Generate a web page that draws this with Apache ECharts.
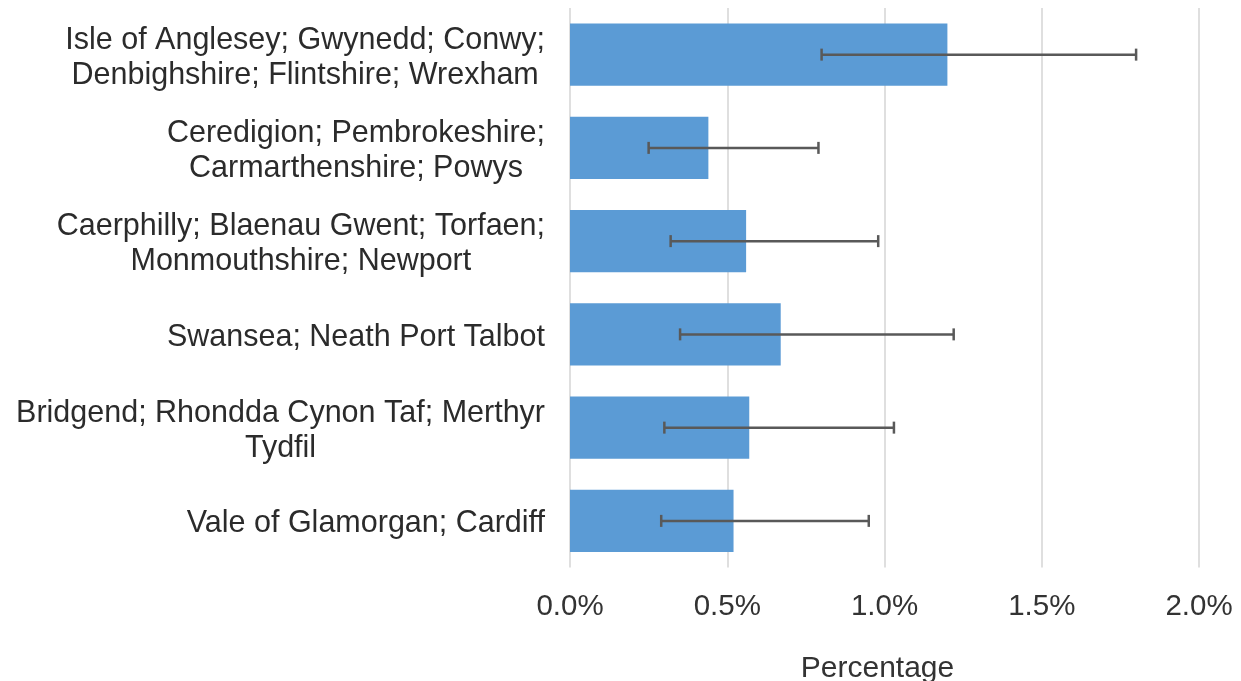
<!DOCTYPE html>
<html>
<head>
<meta charset="utf-8">
<script src="https://cdn.jsdelivr.net/npm/echarts@6/dist/echarts.min.js"></script>
<style>
html,body{margin:0;padding:0;background:#fff;}
#chart{width:1241px;height:681px;}
</style>
</head>
<body>
<div id="chart"></div>
<script>
const categories = [
  "Isle of Anglesey; Gwynedd; Conwy;\nDenbighshire; Flintshire; Wrexham",
  "Ceredigion; Pembrokeshire;\nCarmarthenshire; Powys",
  "Caerphilly; Blaenau Gwent; Torfaen;\nMonmouthshire; Newport",
  "Swansea; Neath Port Talbot",
  "Bridgend; Rhondda Cynon Taf; Merthyr\nTydfil",
  "Vale of Glamorgan; Cardiff"
];
const values = [1.20, 0.44, 0.56, 0.67, 0.57, 0.52];
const lower  = [0.80, 0.25, 0.32, 0.35, 0.30, 0.29];
const upper  = [1.80, 0.79, 0.98, 1.22, 1.03, 0.95];
const xTicks = [0, 0.5, 1.0, 1.5, 2.0];

const FONT = '"Liberation Sans", Arial, sans-serif';
const chart = echarts.init(document.getElementById('chart'), null, {renderer:'canvas'});

const errData = categories.map((c, i) => [i, lower[i], upper[i]]);

chart.setOption({
  animation: false,
  backgroundColor: '#ffffff',
  grid: {left: 570, right: 42, top: 8, bottom: 113.5, containLabel: false, outerBoundsMode: 'none'},
  xAxis: {
    type: 'value',
    min: xTicks[0], max: xTicks[xTicks.length - 1], interval: 0.5,
    axisLine: {show: false},
    axisTick: {show: false},
    splitLine: {show: true, lineStyle: {color: '#d4d4d4', width: 1.5}},
    axisLabel: {
      margin: 24,
      color: '#333333', fontFamily: FONT, fontSize: 29.5,
      formatter: v => v.toFixed(1) + '%'
    },
    name: 'Percentage',
    nameLocation: 'middle',
    nameGap: 86,
    nameTextStyle: {color: '#333333', fontFamily: FONT, fontSize: 30, padding: [0, 14, 0, 0]}
  },
  yAxis: {
    type: 'category',
    data: categories,
    inverse: true,
    axisLine: {show: false},
    axisTick: {show: false},
    splitLine: {show: false},
    axisLabel: {
      margin: 25,
      align: 'right',
      padding: [6, 0, 0, 0],
      formatter: v => v.split('\n').map(s => '{c|' + s + '}').join('\n'),
      rich: {
        c: {align: 'center', color: '#2b2b2b', fontFamily: FONT, fontSize: 30.5, lineHeight: 35}
      }
    }
  },
  series: [
    {
      type: 'bar',
      data: values,
      barCategoryGap: '33.5%',
      itemStyle: {color: '#5b9bd5'},
      z: 2
    },
    {
      type: 'custom',
      data: errData,
      z: 3,
      renderItem: function (params, api) {
        const idx = api.value(0);
        const lo = api.coord([api.value(1), idx]);
        const hi = api.coord([api.value(2), idx]);
        const cap = 6;
        const style = {stroke: '#595959', lineWidth: 2.5};
        return {
          type: 'group',
          children: [
            {type: 'line', shape: {x1: lo[0], y1: lo[1], x2: hi[0], y2: hi[1]}, style: style},
            {type: 'line', shape: {x1: lo[0], y1: lo[1] - cap, x2: lo[0], y2: lo[1] + cap}, style: style},
            {type: 'line', shape: {x1: hi[0], y1: hi[1] - cap, x2: hi[0], y2: hi[1] + cap}, style: style}
          ]
        };
      },
      encode: {x: [1, 2], y: 0}
    }
  ]
});
</script>
</body>
</html>
